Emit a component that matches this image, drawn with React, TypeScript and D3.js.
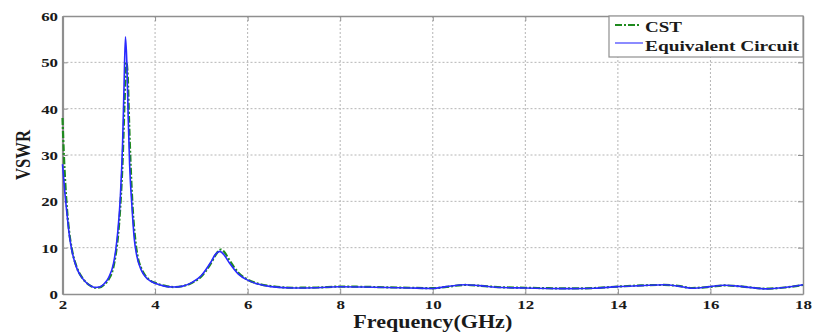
import { useEffect, useRef } from "react"
import * as d3 from "d3"

// Equivalent circuit (blue, solid)
const ecFreq = [2.0, 2.05, 2.1, 2.15, 2.2, 2.3, 2.4, 2.5, 2.6, 2.7, 2.8, 2.9, 3.0, 3.1, 3.15, 3.2, 3.25, 3.3, 3.33, 3.36, 3.39, 3.42, 3.45, 3.5, 3.55, 3.6, 3.7, 3.8, 3.9, 4.0, 4.2, 4.4, 4.6, 4.8, 5.0, 5.2, 5.3, 5.4, 5.5, 5.6, 5.8, 6.0, 6.2, 6.5, 7.0, 7.5, 8.0, 8.5, 9.0, 9.5, 10.0, 10.3, 10.7, 11.0, 11.5, 12.0, 12.5, 13.0, 13.5, 14.0, 14.5, 15.0, 15.3, 15.6, 16.0, 16.3, 16.7, 17.2, 17.6, 18.0]
const ecVswr = [28, 22, 17, 12.5, 9.5, 5.8, 3.8, 2.6, 1.8, 1.4, 1.5, 2.2, 3.6, 6.5, 9.5, 14, 21, 33, 45, 55.5, 50, 38, 28, 19, 12, 8.5, 5.2, 3.6, 2.8, 2.3, 1.7, 1.5, 1.7, 2.5, 4.0, 6.8, 8.5, 9.2, 8.3, 6.8, 4.3, 3.0, 2.2, 1.6, 1.3, 1.35, 1.55, 1.5, 1.4, 1.3, 1.2, 1.6, 2.0, 1.8, 1.4, 1.3, 1.2, 1.15, 1.25, 1.6, 1.8, 2.0, 1.7, 1.25, 1.6, 1.9, 1.6, 1.1, 1.4, 2.0]

// CST (green, dash-dot)
const cstFreq = [2.0, 2.03, 2.06, 2.1, 2.15, 2.2, 2.3, 2.4, 2.5, 2.6, 2.7, 2.8, 2.9, 3.0, 3.1, 3.15, 3.2, 3.25, 3.3, 3.34, 3.38, 3.41, 3.44, 3.48, 3.52, 3.57, 3.62, 3.7, 3.8, 3.9, 4.0, 4.2, 4.4, 4.6, 4.8, 5.0, 5.2, 5.3, 5.42, 5.5, 5.6, 5.8, 6.0, 6.2, 6.5, 7.0, 7.5, 8.0, 8.5, 9.0, 9.5, 10.0, 10.3, 10.7, 11.0, 11.5, 12.0, 12.5, 13.0, 13.5, 14.0, 14.5, 15.0, 15.3, 15.6, 16.0, 16.3, 16.7, 17.2, 17.6, 18.0]
const cstVswr = [38, 30, 24, 18, 13, 9.8, 6, 3.9, 2.6, 1.8, 1.35, 1.4, 2.0, 3.2, 5.8, 8.5, 12.5, 19, 29, 41, 50, 47, 37, 26, 18, 12, 8.3, 5.6, 3.8, 2.9, 2.4, 1.8, 1.5, 1.7, 2.4, 3.8, 6.5, 8.3, 9.6, 9.0, 7.4, 4.6, 3.1, 2.3, 1.7, 1.35, 1.4, 1.6, 1.55, 1.45, 1.35, 1.25, 1.55, 1.95, 1.8, 1.45, 1.35, 1.25, 1.2, 1.3, 1.6, 1.85, 1.95, 1.75, 1.3, 1.55, 1.85, 1.6, 1.15, 1.4, 1.95]

const xTicks = [2, 4, 6, 8, 10, 12, 14, 16, 18]
const yTicks = [0, 10, 20, 30, 40, 50, 60]

const FONT = "Liberation Serif, Times New Roman, serif"
const INK = "#1a1a1a"
const FRAME = "#8f8f8f"
// the source figure is squashed vertically, so text reads wide
const SX = 1.3

export default function App() {
  const svgRef = useRef<SVGSVGElement>(null)

  useEffect(() => {
    const svgEl = svgRef.current
    if (!svgEl) return
    const svg = d3.select(svgEl)
    svg.selectAll("*").remove()

    const W = 816, H = 334
    const margin = { top: 16, right: 13, bottom: 40, left: 62.5 }
    const x = d3.scaleLinear().domain([2, 18]).range([margin.left, W - margin.right])
    const y = d3.scaleLinear().domain([0, 60]).range([H - margin.bottom, margin.top])

    // grid
    const grid = svg.append("g").attr("stroke", "#b5b5b5").attr("stroke-width", 1).attr("stroke-dasharray", "2,2")
    grid.selectAll("line.gx").data(xTicks.slice(1, -1)).join("line")
      .attr("x1", d => x(d)).attr("x2", d => x(d)).attr("y1", y(0)).attr("y2", y(60))
    grid.selectAll("line.gy").data(yTicks.slice(1, -1)).join("line")
      .attr("x1", x(2)).attr("x2", x(18)).attr("y1", d => y(d)).attr("y2", d => y(d))

    // axes, ticks inside
    const axB = svg.append("g").attr("transform", `translate(0,${y(0)})`)
      .call(d3.axisBottom(x).tickValues(xTicks).tickSizeInner(-5).tickSizeOuter(0))
    const axL = svg.append("g").attr("transform", `translate(${x(2)},0)`)
      .call(d3.axisLeft(y).tickValues(yTicks).tickSizeInner(-5).tickSizeOuter(0))
    const axT = svg.append("g").attr("transform", `translate(0,${y(60)})`)
      .call(d3.axisTop(x).tickValues(xTicks).tickSizeInner(-5).tickSizeOuter(0).tickFormat(() => ""))
    const axR = svg.append("g").attr("transform", `translate(${x(18)},0)`)
      .call(d3.axisRight(y).tickValues(yTicks).tickSizeInner(-5).tickSizeOuter(0).tickFormat(() => ""))
    for (const ax of [axB, axL, axT, axR]) {
      ax.attr("font-family", null).attr("font-size", null)
      ax.select(".domain").attr("stroke", FRAME).attr("stroke-width", 1.5)
      ax.selectAll(".tick line").attr("stroke", FRAME)
      ax.selectAll("text").style("font-family", FONT).style("font-weight", "bold")
        .style("font-size", "13px").attr("fill", INK)
    }
    axL.select(".domain").attr("stroke-width", 2.2)
    axB.selectAll(".tick text").attr("y", 15).attr("dy", null)
      .attr("transform", `scale(${SX},1)`)
    axL.selectAll(".tick text").attr("x", -4.5 / SX).attr("dy", "0.34em")
      .attr("transform", `scale(${SX},1)`)

    const line = d3.line<[number, number]>()
      .x(d => x(d[0])).y(d => y(d[1]))
      .curve(d3.curveMonotoneX)

    const cst = cstFreq.map((f, i) => [f, cstVswr[i]] as [number, number])
    const ec = ecFreq.map((f, i) => [f, ecVswr[i]] as [number, number])

    svg.append("path").attr("d", line(cst) || "")
      .attr("fill", "none").attr("stroke", "#1f8a1f").attr("stroke-width", 2.2)
      .attr("stroke-dasharray", "7,2,2,2")
    svg.append("path").attr("d", line(ec) || "")
      .attr("fill", "none").attr("stroke", "#2a2aff").attr("stroke-width", 1.6)

    // axis titles
    svg.append("text").attr("x", (x(2) + x(18)) / 2).attr("y", 328)
      .attr("text-anchor", "middle").attr("textLength", 159).attr("lengthAdjust", "spacingAndGlyphs")
      .style("font-family", FONT).style("font-weight", "bold")
      .style("font-size", "19px").attr("fill", INK).text("Frequency(GHz)")
    svg.append("text").attr("transform", `translate(30,${(y(0) + y(60)) / 2}) rotate(-90)`)
      .attr("text-anchor", "middle").attr("textLength", 50).attr("lengthAdjust", "spacingAndGlyphs")
      .style("font-family", FONT).style("font-weight", "bold")
      .style("font-size", "22px").attr("fill", INK).text("VSWR")

    // legend
    const lg = svg.append("g").attr("transform", `translate(609,${margin.top})`)
    lg.append("rect").attr("width", x(18) - 609).attr("height", 41)
      .attr("fill", "#fff").attr("stroke", FRAME).attr("stroke-width", 1.2)
    const items = [
      { label: "CST", color: "#1f8a1f", dash: "7,2,2,2", w: 2.2, len: 37, ly: 9, ty: 16, x2: 31 },
      { label: "Equivalent Circuit", color: "#5a5aff", dash: null, w: 1.4, len: 154, ly: 27, ty: 35, x2: 34 },
    ]
    items.forEach(it => {
      lg.append("line").attr("x1", 6).attr("x2", it.x2).attr("y1", it.ly).attr("y2", it.ly)
        .attr("stroke", it.color).attr("stroke-width", it.w)
        .attr("stroke-dasharray", it.dash)
      lg.append("text").attr("x", 36).attr("y", it.ty)
        .attr("textLength", it.len).attr("lengthAdjust", "spacingAndGlyphs")
        .style("font-family", FONT).style("font-weight", "bold").style("font-size", "15px")
        .attr("fill", INK).text(it.label)
    })
  }, [])

  return (
    <svg ref={svgRef} width={816} height={334}
      style={{ position: "absolute", left: 0, top: 0, background: "#fff" }} />
  )
}
